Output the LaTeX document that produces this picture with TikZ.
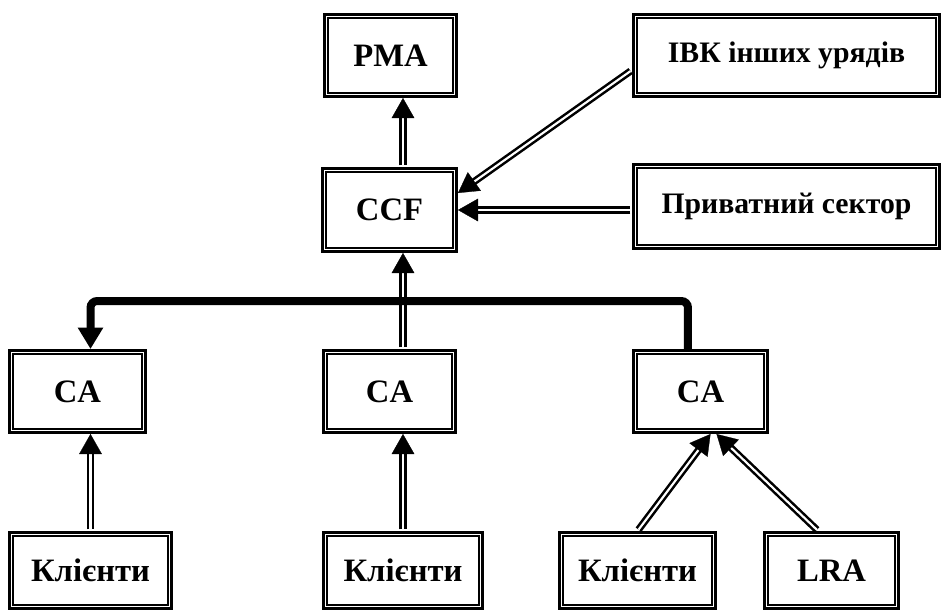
\documentclass[tikz,border=0pt]{standalone}
\usepackage{fontspec}
\setmainfont{Liberation Serif}
\usetikzlibrary{arrows.meta}
\tikzset{
  box/.style={draw, line width=2.6pt, inner sep=0pt, font=\bfseries\fontsize{24.5}{28}\selectfont},
  widebox/.style={box, font=\bfseries\fontsize{22.3}{26}\selectfont},
  innerbox/.style={draw, line width=1.4pt},
  dbl/.style={draw, double, line width=1.9pt, double distance=1.6pt, shorten >=14pt, shorten <=1.3pt},
  tip/.style={draw=white, line width=0.2pt, shorten <=2pt, -{Triangle[length=15pt,width=17pt,color=black,fill=black]}},
  bracket/.style={draw, line width=6pt, rounded corners=5pt, -{Triangle[length=16pt,width=18pt]}}
}
\begin{document}
\begin{tikzpicture}[x=0.75pt,y=-0.75pt]
\useasboundingbox (0,0) rectangle (944,612);
\node[box, minimum width=98.65pt, minimum height=61.15pt] (pma) at (390.5,55.5) {PMA};
\node[box, minimum width=100.15pt, minimum height=61.9pt] (ccf) at (389.5,210) {CCF};
\node[widebox, minimum width=229.15pt, minimum height=61.15pt] (ibk) at (786.5,55.5) {ІВК інших урядів};
\node[widebox, minimum width=229.15pt, minimum height=62.65pt] (priv) at (786.5,206.5) {Приватний сектор};
\node[box, minimum width=101.65pt, minimum height=61.15pt] (caL) at (77.5,391.5) {CA};
\node[box, minimum width=98.65pt, minimum height=61.15pt] (caM) at (389.5,391.5) {CA};
\node[box, minimum width=100.15pt, minimum height=61.15pt] (caR) at (700.5,391.5) {CA};
\node[box, minimum width=121.15pt, minimum height=56.65pt] (kL) at (90.5,570.5) {Клієнти};
\node[box, minimum width=118.9pt, minimum height=56.65pt] (kM) at (403,570.5) {Клієнти};
\node[box, minimum width=116.65pt, minimum height=56.65pt] (kR) at (637.5,570.5) {Клієнти};
\node[box, minimum width=100.15pt, minimum height=56.65pt] (lra) at (831.5,570.5) {LRA};
\foreach \n in {pma,ccf,ibk,priv,caL,caM,caR,kL,kM,kR,lra}
  \draw[innerbox] ([shift={(3.55pt,-3.55pt)}]\n.north west) rectangle ([shift={(-3.55pt,3.55pt)}]\n.south east);
\coordinate (bk) at (400,301);
% double arrows
\draw[dbl] (kL.north) -- (kL.north |- caL.south);
\draw[tip] (kL.north) -- (kL.north |- caL.south);
\draw[dbl] (kM.north) -- (kM.north |- caM.south);
\draw[tip] (kM.north) -- (kM.north |- caM.south);
\draw[dbl] (kM.north |- caM.north) -- (kM.north |- ccf.south);
\draw[tip] (kM.north |- caM.north) -- (kM.north |- ccf.south);
\draw[dbl] (kM.north |- ccf.north) -- (kM.north |- pma.south);
\draw[tip] (kM.north |- ccf.north) -- (kM.north |- pma.south);
\draw[dbl] ([yshift=-10.9pt]ibk.west) -- ([yshift=12.75pt]ccf.east);
\draw[tip] ([yshift=-10.9pt]ibk.west) -- ([yshift=12.75pt]ccf.east);
\draw[dbl] (ccf.east -| priv.west) -- (ccf.east);
\draw[tip] (ccf.east -| priv.west) -- (ccf.east);
\draw[dbl] (kR.north) -- ([xshift=7.5pt]caR.south);
\draw[tip] (kR.north) -- ([xshift=7.5pt]caR.south);
\draw[dbl] ([xshift=-10pt]lra.north) -- ([xshift=12pt]caR.south);
\draw[tip] ([xshift=-10pt]lra.north) -- ([xshift=12pt]caR.south);
% thick bracket
\draw[bracket] ([xshift=-9.4pt]caR.north) |- (bk) -| (kL.north |- caL.north);
\end{tikzpicture}
\end{document}
